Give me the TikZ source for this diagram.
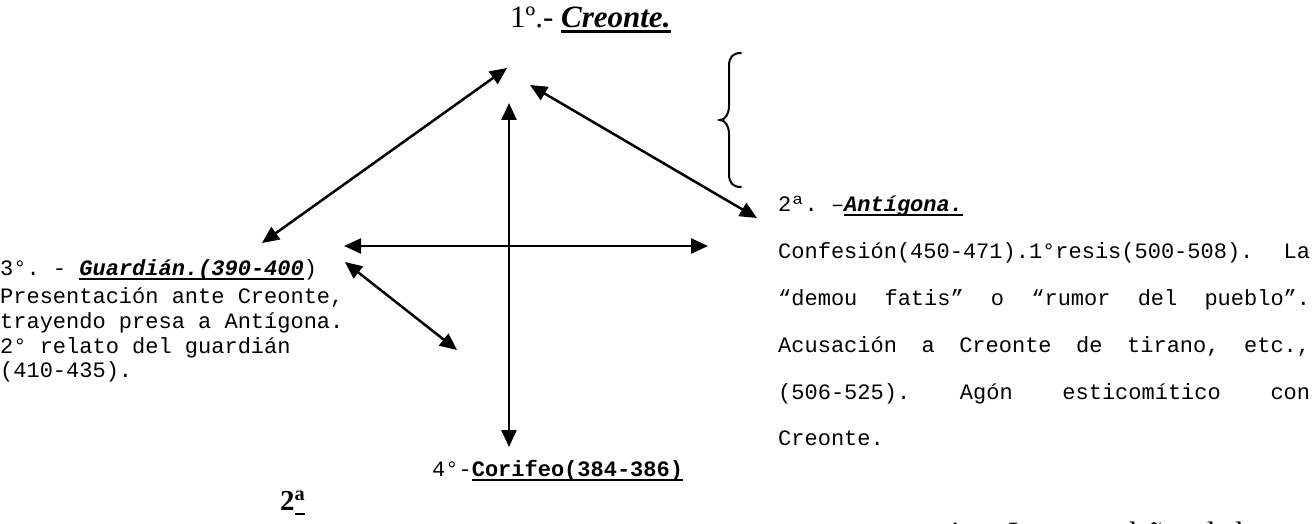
\documentclass[tikz,border=0pt]{standalone}
\usepackage{fontspec}
\setmainfont{Liberation Serif}
\setmonofont{Liberation Mono}
\usetikzlibrary{arrows.meta}
% underline with a thick rule
\newcommand{\undl}[2][5pt]{\setbox0\hbox{#2}\rlap{\rule[-#1]{\wd0}{2.5pt}}\box0}
\newcommand{\gap}{\ \hfill}
\tikzset{
  mono/.style={font=\ttfamily\fontsize{22}{25}\selectfont,inner sep=0pt,anchor=base west},
  serif/.style={font=\fontsize{31}{34}\selectfont,inner sep=0pt,anchor=base west},
  link/.style={line width=2.5pt,{Triangle[length=17pt,width=15pt]}-{Triangle[length=17pt,width=15pt]}},
  brace/.style={line width=2pt,line cap=round}
}
\begin{document}
\begin{tikzpicture}[x=1pt,y=-1pt]
\useasboundingbox (0,0) rectangle (1314,524);
\clip (0,0) rectangle (1314,524);
% titles
\node[serif] (creonte) at (510,28) {1º.- \undl{\textbf{\textit{Creonte.}}}};
\node[serif,font=\bfseries\fontsize{29}{30}\selectfont] (segunda) at (280,510) {2\undl{\textsuperscript{a}}};
% 3 - guardian
\node[mono] (guard) at (0,275) {3°. - \undl{\textbf{\textit{Guardián.(390-400}}})};
\node[mono] (guard1) at (0,303) {Presentación ante Creonte,};
\node[mono] (guard2) at (0,328) {trayendo presa a Antígona.};
\node[mono] (guard3) at (0,353) {2° relato del guardián};
\node[mono] (guard4) at (0,377) {(410-435).};
% 2 - antigona
\node[mono] (anti) at (778,211) {2ª. –\undl{\textbf{\textit{Antígona.}}}};
\node[mono] (anti1) at (778,258) {\makebox[532pt][s]{Confesión(450-471).1°resis(500-508).\gap La}};
\node[mono] (anti2) at (778,305) {\makebox[532pt][s]{“demou\gap fatis”\gap o\gap “rumor\gap del\gap pueblo”.}};
\node[mono] (anti3) at (778,352) {\makebox[532pt][s]{Acusación\gap a\gap Creonte\gap de\gap tirano,\gap etc.,}};
\node[mono] (anti4) at (778,399) {\makebox[532pt][s]{(506-525).\gap Agón\gap esticomítico\gap con}};
\node[mono] (anti5) at (778,445) {Creonte.};
% 4 - corifeo
\node[mono] (cori) at (432,476) {4°-\undl{\textbf{Corifeo(384-386)}}};
% next line, cut by the page edge
\node[serif] (frag1) at (951,543) {i};
\node[serif] (frag2) at (1008,543) {L};
\node[serif] (frag3) at (1121,543) {d};
\node[serif] (frag4) at (1148,543) {ñ};
\node[serif] (frag5) at (1199,543) {d};
\node[serif] (frag6) at (1235,543) {l};
% arrow ends
\coordinate (top1) at (507,68);
\coordinate (top2) at (530,85);
\coordinate (top3) at (509,103);
\coordinate (bot3) at (509,447);
\coordinate (left1) at (262,243);
\coordinate (right1) at (757,218);
\coordinate (left2) at (344,246);
\coordinate (right2) at (708,246);
\coordinate (left3) at (345,262);
\coordinate (bot4) at (457,350);
\draw[link] (left1) -- (top1);
\draw[link] (top2) -- (right1);
\draw[link] (top3) -- (bot3);
\draw[link] (left2) -- (right2);
\draw[link] (left3) -- (bot4);
% brace
\draw[brace] (741,53) .. controls (733,53) and (729,57) .. (729,66) -- (729,106)
  .. controls (729,114) and (725,120) .. (720,120) .. controls (725,120) and (729,126) .. (729,134)
  -- (729,174) .. controls (729,183) and (733,187) .. (741,187);
\end{tikzpicture}
\end{document}
